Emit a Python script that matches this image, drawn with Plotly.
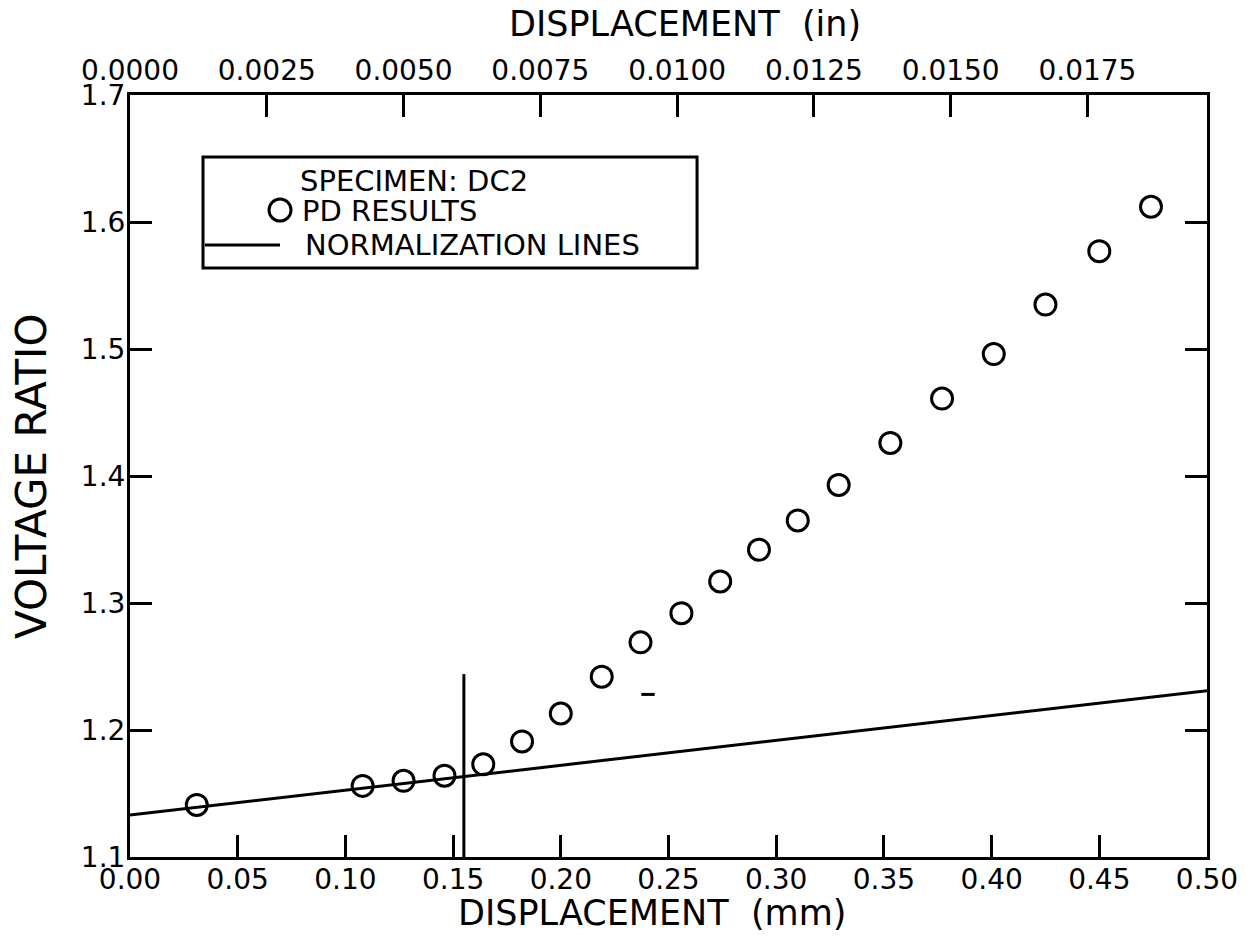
import plotly.graph_objects as go

# ---- data ----
pd_x_mm = [0.031, 0.108, 0.127, 0.146, 0.164, 0.182, 0.200, 0.219, 0.237, 0.256,
           0.274, 0.292, 0.310, 0.329, 0.353, 0.377, 0.401, 0.425, 0.450, 0.474]
pd_ratio = [1.141, 1.156, 1.160, 1.164, 1.173, 1.191, 1.213, 1.242, 1.269, 1.292,
            1.317, 1.342, 1.365, 1.393, 1.426, 1.461, 1.496, 1.535, 1.577, 1.612]

norm_x_mm = [0.0, 0.5]
norm_ratio = [1.133, 1.231]

vert_x_mm = [0.155, 0.155]
vert_ratio = [1.1, 1.244]

stray_x_mm = [0.2374, 0.2436]
stray_ratio = [1.228, 1.228]

x_ticks_mm = [0.00, 0.05, 0.10, 0.15, 0.20, 0.25, 0.30, 0.35, 0.40, 0.45, 0.50]
x_ticks_in = [0.0000, 0.0025, 0.0050, 0.0075, 0.0100, 0.0125, 0.0150, 0.0175]
y_ticks = [1.1, 1.2, 1.3, 1.4, 1.5, 1.6, 1.7]

x_title_bottom = "DISPLACEMENT  (mm)"
x_title_top = "DISPLACEMENT  (in)"
y_title = "VOLTAGE RATIO"
legend_title = "SPECIMEN: DC2"
legend_markers_label = "PD RESULTS"
legend_lines_label = "NORMALIZATION LINES"

MM_PER_IN = 25.4
FONT = "DejaVu Sans"

fig = go.Figure()

fig.add_trace(go.Scatter(
    x=pd_x_mm, y=pd_ratio, mode="markers", name=legend_markers_label,
    marker=dict(symbol="circle-open", size=21, color="black", line=dict(width=3, color="black")),
    showlegend=False,
))
fig.add_trace(go.Scatter(
    x=norm_x_mm, y=norm_ratio, mode="lines", name=legend_lines_label,
    line=dict(color="black", width=3), showlegend=False,
))
fig.add_trace(go.Scatter(
    x=vert_x_mm, y=vert_ratio, mode="lines", showlegend=False,
    line=dict(color="black", width=3),
))
fig.add_trace(go.Scatter(
    x=stray_x_mm, y=stray_ratio, mode="lines", showlegend=False,
    line=dict(color="black", width=3), hoverinfo="skip",
))
# invisible trace carrying the inch axis
fig.add_trace(go.Scatter(
    x=[v / MM_PER_IN for v in pd_x_mm], y=pd_ratio, xaxis="x2", mode="markers",
    marker=dict(opacity=0), showlegend=False, hoverinfo="skip",
))

axis_common = dict(
    showline=True, linecolor="black", linewidth=3,
    ticks="inside", ticklen=22, tickwidth=3, tickcolor="black",
    showgrid=False, zeroline=False,
)
TICK_FONT = dict(family=FONT, size=28, color="black")

# ---- legend box drawn in paper coordinates ----
LEG_FONT = dict(family=FONT, size=29, color="black")
shapes = [
    dict(type="rect", xref="paper", yref="paper", x0=0.0678, x1=0.5265, y0=0.773, y1=0.9186,
         line=dict(color="black", width=3), fillcolor="white", layer="above"),
    dict(type="circle", xref="paper", yref="paper", xsizemode="pixel", ysizemode="pixel",
         xanchor=0.1393, yanchor=0.849, x0=-11, x1=11, y0=-11, y1=11, layer="above",
         line=dict(color="black", width=3)),
    dict(type="line", xref="paper", yref="paper", x0=0.0696, x1=0.1393, y0=0.803, y1=0.803,
         line=dict(color="black", width=3), layer="above"),
]

TITLE_FONT = dict(family=FONT, size=35, color="black")
annotations = [
    dict(text=legend_title, xref="paper", yref="paper", x=0.156, y=0.8870,
         xanchor="left", yanchor="middle", showarrow=False, font=LEG_FONT),
    dict(text=legend_markers_label, xref="paper", yref="paper", x=0.158, y=0.848,
         xanchor="left", yanchor="middle", showarrow=False, font=LEG_FONT),
    dict(text=legend_lines_label, xref="paper", yref="paper", x=0.161, y=0.803,
         xanchor="left", yanchor="middle", showarrow=False, font=LEG_FONT),
    dict(text=x_title_bottom, xref="paper", yref="paper", x=0.485, y=0, yshift=-56,
         xanchor="center", yanchor="middle", showarrow=False, font=TITLE_FONT),
    dict(text=x_title_top, xref="paper", yref="paper", x=0.515, y=1, yshift=71,
         xanchor="center", yanchor="middle", showarrow=False, font=TITLE_FONT),
    dict(text=y_title, xref="paper", yref="paper", x=0, xshift=-99, y=0.5, textangle=-90,
         xanchor="center", yanchor="middle", showarrow=False,
         font=dict(family=FONT, size=42, color="black")),
]

fig.update_layout(
    width=1252, height=941,
    margin=dict(l=130, r=45, t=95, b=84),
    paper_bgcolor="white", plot_bgcolor="white",
    font=dict(family=FONT, color="black"),
    xaxis=dict(
        range=[0, 0.5], tickvals=x_ticks_mm,
        ticktext=[f"{v:.2f}" for v in x_ticks_mm],
        ticklabelstandoff=-5, tickfont=TICK_FONT,
        **axis_common,
    ),
    xaxis2=dict(
        range=[0, 0.5 / MM_PER_IN], overlaying="x", side="top",
        tickvals=x_ticks_in, ticktext=[f"{v:.4f}" for v in x_ticks_in],
        ticklabelstandoff=1, tickfont=TICK_FONT,
        **axis_common,
    ),
    yaxis=dict(
        range=[1.1, 1.7], tickvals=y_ticks, ticktext=[f"{v:.1f}" for v in y_ticks],
        mirror="ticks", ticklabelstandoff=-4, tickfont=TICK_FONT,
        **axis_common,
    ),
    showlegend=False,
    shapes=shapes,
    annotations=annotations,
)

fig.write_html(
    "out.html",
    config={"displayModeBar": False},
    post_script="document.body.style.margin='0';document.body.style.overflow='hidden';",
)
